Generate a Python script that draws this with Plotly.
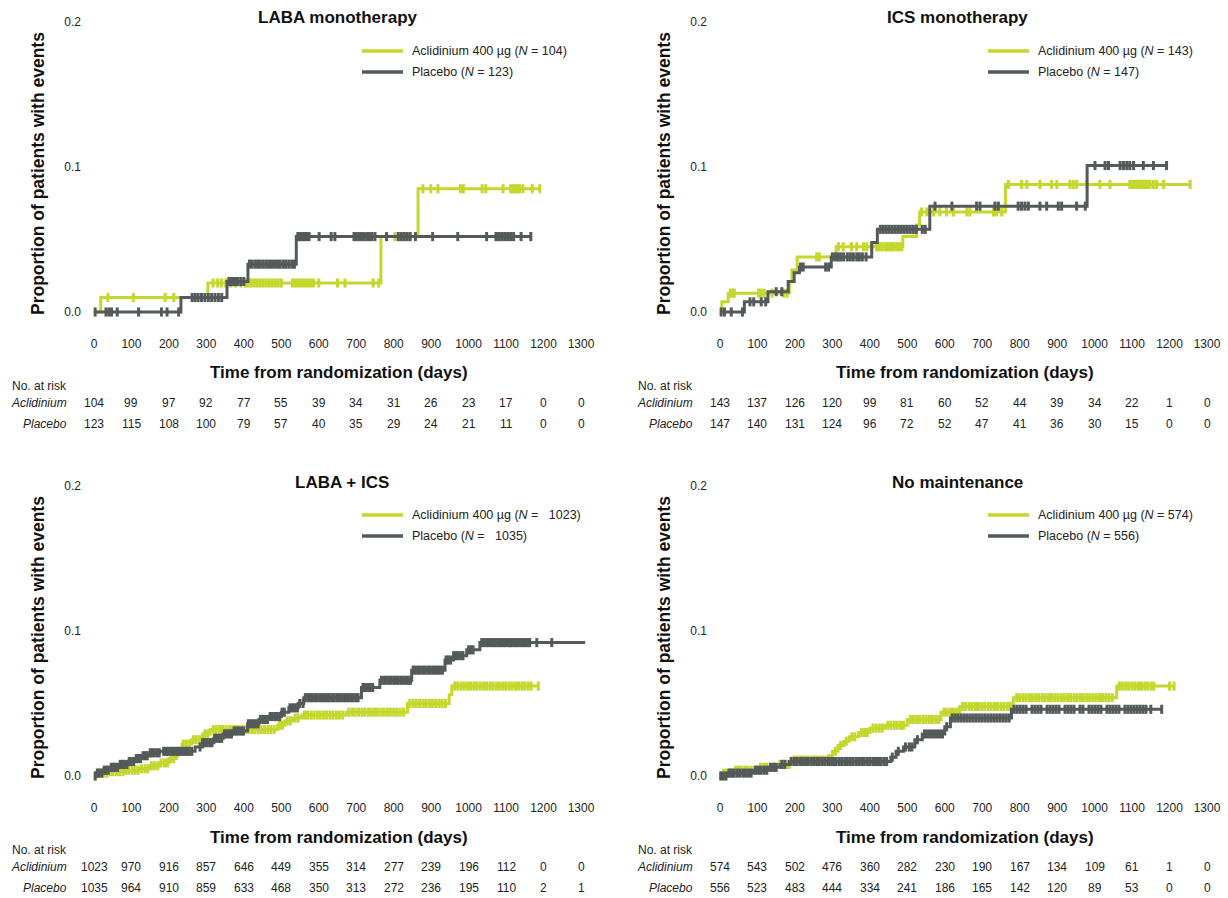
import numpy as np
import plotly.graph_objects as go

W, H = 1228, 898
ACL = "#c4d72e"
PBO = "#545a5a"
FONT = "Liberation Sans, Arial, Helvetica, sans-serif"

risk_days = [0, 100, 200, 300, 400, 500, 600, 700, 800, 900, 1000, 1100, 1200, 1300]

# ---------------- LABA monotherapy ----------------
laba_acl_t = [0, 18, 304, 766, 865]
laba_acl_v = [0, 0.010, 0.020, 0.052, 0.085]
laba_acl_end = 1190
laba_acl_cens = [37, 105, 190, 213, 318, 330, 340, 352, 365, 378, 392, 405, 412, 420, 428,
                 436, 444, 452, 460, 468, 476, 484, 492, 500, 530, 538, 546, 554, 562, 570,
                 578, 586, 600, 650, 670, 745, 760, 803, 812, 822, 830, 843, 878, 899, 918,
                 978, 986, 1036, 1046, 1092, 1112, 1118, 1124, 1130, 1136, 1145, 1170, 1190]
laba_pbo_t = [0, 232, 355, 411, 540]
laba_pbo_v = [0, 0.010, 0.021, 0.033, 0.052]
laba_pbo_end = 1166
laba_pbo_cens = [3, 32, 40, 47, 62, 119, 180, 195, 226, 262, 270, 278, 287, 296, 305, 314,
                 323, 332, 341, 360, 366, 372, 378, 384, 392, 400, 415, 422, 430, 437, 444,
                 452, 460, 467, 474, 482, 490, 497, 505, 512, 520, 528, 535, 544, 550, 556,
                 562, 568, 574, 601, 633, 643, 694, 700, 707, 714, 721, 728, 735, 742, 750,
                 781, 812, 820, 828, 836, 844, 858, 904, 971, 1048, 1073, 1080, 1088, 1096,
                 1104, 1112, 1120, 1140, 1166]
laba_acl_risk = [104, 99, 97, 92, 77, 55, 39, 34, 31, 26, 23, 17, 0, 0]
laba_pbo_risk = [123, 115, 108, 100, 79, 57, 40, 35, 29, 24, 21, 11, 0, 0]

# ---------------- ICS monotherapy ----------------
ics_acl_t = [0, 5, 22, 185, 192, 206, 310, 488, 525, 533, 762]
ics_acl_v = [0, 0.007, 0.013, 0.021, 0.029, 0.038, 0.045, 0.052, 0.060, 0.069, 0.088]
ics_acl_end = 1255
ics_acl_cens = [28, 33, 38, 103, 110, 118, 139, 170, 179, 258, 265, 316, 329, 351, 365, 383,
                392, 405, 418, 425, 432, 440, 445, 452, 458, 465, 472, 479, 485, 538, 552,
                570, 587, 605, 623, 659, 667, 730, 738, 752, 770, 805, 819, 854, 885, 899,
                934, 943, 952, 979, 1014, 1041, 1094, 1100, 1106, 1112, 1118, 1124, 1130,
                1136, 1142, 1148, 1157, 1166, 1184, 1255]
ics_pbo_t = [0, 65, 128, 182, 198, 212, 297, 405, 420, 560, 980]
ics_pbo_v = [0, 0.007, 0.014, 0.021, 0.027, 0.031, 0.038, 0.048, 0.057, 0.073, 0.101]
ics_pbo_end = 1192
ics_pbo_cens = [3, 12, 30, 60, 80, 90, 110, 122, 150, 165, 215, 222, 282, 290, 300, 308,
                315, 322, 330, 340, 348, 356, 365, 372, 380, 390, 428, 436, 444, 452, 460,
                468, 476, 484, 492, 500, 508, 516, 524, 540, 548, 574, 619, 685, 694, 734,
                743, 796, 805, 814, 823, 854, 872, 903, 912, 952, 975, 1001, 1028, 1037,
                1068, 1077, 1086, 1094, 1104, 1130, 1157, 1192]
ics_acl_risk = [143, 137, 126, 120, 99, 81, 60, 52, 44, 39, 34, 22, 1, 0]
ics_pbo_risk = [147, 140, 131, 124, 96, 72, 52, 47, 41, 36, 30, 15, 0, 0]

# ---------------- LABA + ICS ----------------
combo_acl_t = [0, 10, 40, 80, 120, 150, 175, 200, 220, 235, 260, 290, 310, 490, 510, 530,
               555, 673, 837, 948, 955]
combo_acl_v = [0, 0.002, 0.003, 0.004, 0.005, 0.007, 0.009, 0.012, 0.016, 0.022, 0.025,
               0.029, 0.032, 0.035, 0.038, 0.040, 0.042, 0.044, 0.050, 0.056, 0.062]
combo_acl_end = 1186
combo_acl_cens = [4, 12, 19, 27, 35, 44, 51, 60, 68, 77, 85, 93, 102, 110, 118, 127, 136,
                  144, 153, 161, 170, 179, 188, 196, 205, 213, 224, 238, 246, 254, 265, 273,
                  282, 296, 304, 318, 326, 335, 343, 352, 361, 369, 378, 386, 395, 404, 412,
                  421, 429, 438, 446, 455, 464, 472, 481, 495, 503, 516, 524, 537, 545, 562,
                  570, 579, 587, 596, 604, 613, 621, 630, 638, 647, 655, 664, 680, 689, 697,
                  706, 715, 723, 732, 740, 749, 757, 766, 774, 783, 791, 800, 808, 817, 826,
                  843, 852, 860, 869, 878, 886, 895, 903, 912, 921, 929, 938, 963, 971, 980,
                  988, 997, 1005, 1014, 1022, 1031, 1040, 1048, 1057, 1065, 1074, 1082, 1091,
                  1099, 1108, 1116, 1125, 1133, 1142, 1150, 1159, 1167, 1186]
combo_pbo_t = [0, 8, 25, 45, 65, 90, 110, 130, 150, 175, 270, 290, 320, 345, 370, 410, 440,
               470, 500, 520, 545, 560, 714, 763, 848, 937, 960, 995, 1030]
combo_pbo_v = [0, 0.002, 0.004, 0.006, 0.008, 0.010, 0.012, 0.014, 0.016, 0.017, 0.020,
               0.023, 0.026, 0.029, 0.031, 0.036, 0.039, 0.041, 0.044, 0.047, 0.050, 0.054,
               0.061, 0.066, 0.073, 0.080, 0.083, 0.087, 0.092]
combo_pbo_end = 1311
combo_pbo_cens = [3, 9, 14, 21, 27, 33, 38, 46, 52, 57, 63, 70, 76, 81, 88, 94, 99, 106,
                  113, 118, 124, 131, 137, 142, 150, 156, 161, 168, 174, 186, 192, 198, 205,
                  211, 217, 223, 229, 236, 242, 248, 254, 261, 283, 290, 296, 302, 309, 315,
                  322, 328, 335, 341, 348, 354, 361, 367, 374, 380, 386, 393, 399, 412, 418,
                  425, 431, 438, 444, 451, 457, 463, 470, 476, 483, 489, 496, 502, 508, 523,
                  530, 536, 543, 549, 558, 564, 571, 577, 583, 590, 596, 603, 609, 615, 622,
                  628, 635, 641, 648, 654, 660, 667, 673, 679, 686, 692, 699, 705, 718, 724,
                  731, 737, 744, 767, 774, 780, 787, 793, 800, 806, 812, 819, 825, 832, 838,
                  845, 852, 858, 865, 871, 878, 884, 891, 897, 904, 910, 917, 923, 930, 940,
                  946, 952, 960, 966, 972, 979, 985, 1000, 1006, 1012, 1035, 1041, 1048,
                  1054, 1061, 1067, 1073, 1080, 1086, 1093, 1099, 1106, 1112, 1118, 1125,
                  1131, 1138, 1144, 1150, 1157, 1163, 1182, 1222]
combo_acl_risk = [1023, 970, 916, 857, 646, 449, 355, 314, 277, 239, 196, 112, 0, 0]
combo_pbo_risk = [1035, 964, 910, 859, 633, 468, 350, 313, 272, 236, 195, 110, 2, 1]

# ---------------- No maintenance ----------------
nomt_acl_t = [0, 5, 40, 100, 150, 190, 290, 300, 315, 330, 345, 370, 400, 440, 500, 590,
              640, 783, 1059]
nomt_acl_v = [0, 0.002, 0.004, 0.006, 0.008, 0.011, 0.014, 0.017, 0.021, 0.024, 0.027,
              0.030, 0.033, 0.035, 0.039, 0.044, 0.048, 0.054, 0.062]
nomt_acl_end = 1215
nomt_acl_cens = [3, 10, 18, 26, 33, 42, 50, 57, 66, 74, 83, 91, 99, 108, 117, 125, 134, 142,
                 160, 168, 177, 185, 198, 206, 215, 223, 232, 240, 249, 257, 266, 274, 283,
                 308, 322, 337, 352, 360, 378, 386, 393, 408, 416, 425, 433, 448, 456, 465,
                 473, 482, 490, 508, 516, 525, 533, 542, 550, 559, 567, 576, 584, 598, 606,
                 615, 623, 632, 648, 656, 665, 673, 682, 690, 699, 707, 716, 724, 733, 741,
                 750, 758, 767, 775, 792, 800, 809, 817, 826, 834, 843, 851, 860, 868, 877,
                 885, 894, 902, 911, 919, 928, 936, 945, 953, 962, 970, 979, 987, 996, 1004,
                 1013, 1021, 1030, 1038, 1047, 1066, 1074, 1083, 1091, 1100, 1108, 1117,
                 1125, 1134, 1142, 1151, 1158, 1200, 1212]
nomt_pbo_t = [0, 20, 90, 130, 160, 185, 456, 470, 490, 520, 540, 600, 615, 778]
nomt_pbo_v = [0, 0.002, 0.004, 0.006, 0.008, 0.010, 0.013, 0.017, 0.020, 0.025, 0.029,
              0.034, 0.040, 0.046]
nomt_pbo_end = 1179
nomt_pbo_cens = [2, 9, 16, 24, 31, 38, 46, 53, 61, 68, 76, 83, 95, 103, 110, 118, 125, 135,
                 143, 150, 165, 173, 190, 198, 205, 213, 220, 228, 235, 243, 250, 258, 265,
                 273, 280, 288, 295, 303, 310, 318, 325, 333, 340, 348, 355, 363, 370, 378,
                 385, 393, 400, 408, 415, 423, 430, 438, 445, 460, 476, 495, 505, 512, 527,
                 546, 554, 562, 570, 578, 586, 594, 605, 620, 628, 636, 644, 652, 660, 668,
                 676, 684, 692, 700, 708, 716, 724, 732, 740, 748, 756, 764, 772, 785, 793,
                 801, 809, 817, 833, 841, 849, 857, 873, 881, 889, 897, 905, 921, 929, 937,
                 945, 961, 969, 985, 993, 1001, 1009, 1017, 1033, 1041, 1049, 1057, 1065,
                 1081, 1089, 1097, 1105, 1113, 1121, 1129, 1137, 1150, 1179]
nomt_acl_risk = [574, 543, 502, 476, 360, 282, 230, 190, 167, 134, 109, 61, 1, 0]
nomt_pbo_risk = [556, 523, 483, 444, 334, 241, 186, 165, 142, 120, 89, 53, 0, 0]

panels = [
    dict(title="LABA monotherapy", n_acl="104", n_pbo="123",
         acl=(laba_acl_t, laba_acl_v, laba_acl_end, laba_acl_cens),
         pbo=(laba_pbo_t, laba_pbo_v, laba_pbo_end, laba_pbo_cens),
         risk=(laba_acl_risk, laba_pbo_risk), col=0, row=0, tx=338),
    dict(title="ICS monotherapy", n_acl="143", n_pbo="147",
         acl=(ics_acl_t, ics_acl_v, ics_acl_end, ics_acl_cens),
         pbo=(ics_pbo_t, ics_pbo_v, ics_pbo_end, ics_pbo_cens),
         risk=(ics_acl_risk, ics_pbo_risk), col=1, row=0, tx=957),
    dict(title="LABA + ICS", n_acl="\u00a0 1023", n_pbo="\u00a0 1035",
         acl=(combo_acl_t, combo_acl_v, combo_acl_end, combo_acl_cens),
         pbo=(combo_pbo_t, combo_pbo_v, combo_pbo_end, combo_pbo_cens),
         risk=(combo_acl_risk, combo_pbo_risk), col=0, row=1, tx=342),
    dict(title="No maintenance", n_acl="574", n_pbo="556",
         acl=(nomt_acl_t, nomt_acl_v, nomt_acl_end, nomt_acl_cens),
         pbo=(nomt_pbo_t, nomt_pbo_v, nomt_pbo_end, nomt_pbo_cens),
         risk=(nomt_acl_risk, nomt_pbo_risk), col=1, row=1, tx=957),
]

# pixel geometry of the panels
X0_PX = [94, 720]          # pixel of day 0 in left / right column
Y0_PX = [312, 776]         # pixel of proportion 0 in top / bottom row
PX_PER_DAY = 487 / 1300
PX_PER_UNIT = 1450
X_RANGE = [-32, 1340]
Y_RANGE = [-0.016, 0.21]


def fx(px):
    return px / W


def fy(py):
    return 1 - py / H


fig = go.Figure()
annotations = []
shapes = []

for i, p in enumerate(panels):
    k = "" if i == 0 else str(i + 1)
    xa, ya = "x" + k, "y" + k
    x0, y0 = X0_PX[p["col"]], Y0_PX[p["row"]]
    dom_x = [fx(x0 + X_RANGE[0] * PX_PER_DAY), fx(x0 + X_RANGE[1] * PX_PER_DAY)]
    dom_y = [fy(y0 - Y_RANGE[0] * PX_PER_UNIT), fy(y0 - Y_RANGE[1] * PX_PER_UNIT)]

    fig.layout["xaxis" + k] = dict(
        domain=dom_x, range=X_RANGE, anchor=ya, tickvals=risk_days,
        showgrid=False, zeroline=False, showline=False, ticks="",
        tickfont=dict(size=12, color="#222", family=FONT))
    fig.layout["yaxis" + k] = dict(
        domain=dom_y, range=Y_RANGE, anchor=xa, tickvals=[0, 0.1, 0.2],
        ticktext=["0.0", "0.1", "0.2"], showgrid=False, zeroline=False,
        showline=False, ticks="", tickfont=dict(size=12, color="#222", family=FONT))

    for key, color in (("acl", ACL), ("pbo", PBO)):
        t, v, end, cens = p[key]
        t_arr = np.array(t, dtype=float)
        v_arr = np.array(v, dtype=float)
        fig.add_trace(go.Scatter(
            x=list(t) + [end], y=list(v) + [v[-1]], xaxis=xa, yaxis=ya,
            mode="lines", line=dict(color=color, width=3, shape="hv"),
            showlegend=False, hoverinfo="skip"))
        c = np.array(cens, dtype=float)
        idx = np.searchsorted(t_arr, c, side="right") - 1
        fig.add_trace(go.Scatter(
            x=c, y=v_arr[idx], xaxis=xa, yaxis=ya, mode="markers",
            marker=dict(symbol="line-ns", size=6.5,
                        line=dict(color=color, width=3)),
            showlegend=False, hoverinfo="skip", cliponaxis=False))

    # panel title
    annotations.append(dict(
        text="<b>%s</b>" % p["title"], x=fx(p["tx"]), y=fy(y0 - 294),
        xref="paper", yref="paper", showarrow=False, xanchor="center",
        yanchor="middle", font=dict(size=17, family=FONT, color="#111")))
    # y-axis title
    annotations.append(dict(
        text="<b>Proportion of patients with events</b>", textangle=-90,
        x=fx(x0 - 56), y=fy(y0 - 138), xref="paper", yref="paper",
        showarrow=False, xanchor="center", yanchor="middle",
        font=dict(size=17.5, family=FONT, color="#111")))
    # x-axis title
    annotations.append(dict(
        text="<b>Time from randomization (days)</b>", x=fx(x0 + 245),
        y=fy(y0 + 61), xref="paper", yref="paper", showarrow=False,
        xanchor="center", yanchor="middle",
        font=dict(size=17, family=FONT, color="#111")))

    # legend
    leg = [("Aclidinium 400 \u00b5g (<i>N</i> = %s)" % p["n_acl"], ACL),
           ("Placebo (<i>N</i> = %s)" % p["n_pbo"], PBO)]
    for j, (label, color) in enumerate(leg):
        ly = y0 - 261 + j * 21
        shapes.append(dict(type="line", xref="paper", yref="paper",
                           x0=fx(x0 + 268), x1=fx(x0 + 309), y0=fy(ly), y1=fy(ly),
                           line=dict(color=color, width=3.5)))
        annotations.append(dict(
            text=label, x=fx(x0 + 316), y=fy(ly), xref="paper", yref="paper",
            showarrow=False, xanchor="left", yanchor="middle",
            font=dict(size=12.5, family=FONT, color="#222")))

    # number at risk table
    annotations.append(dict(
        text="No. at risk", x=fx(x0 - 25), y=fy(y0 + 74), xref="paper",
        yref="paper", showarrow=False, xanchor="right", yanchor="middle",
        font=dict(size=12, family=FONT, color="#222")))
    for j, (name, counts) in enumerate((("Aclidinium", p["risk"][0]),
                                        ("Placebo", p["risk"][1]))):
        ry = y0 + 91 + j * 20.5
        annotations.append(dict(
            text="<i>%s</i>" % name, x=fx(x0 - 25), y=fy(ry), xref="paper",
            yref="paper", showarrow=False, xanchor="right", yanchor="middle",
            font=dict(size=12, family=FONT, color="#222")))
        for d, n in zip(risk_days, counts):
            annotations.append(dict(
                text=str(n), x=d, y=fy(ry), xref=xa, yref="paper",
                showarrow=False, xanchor="center", yanchor="middle",
                font=dict(size=12, family=FONT, color="#222")))

fig.update_layout(
    width=W, height=H, margin=dict(l=0, r=0, t=0, b=0),
    paper_bgcolor="white", plot_bgcolor="white",
    font=dict(family=FONT), annotations=annotations, shapes=shapes,
    showlegend=False)

fig.write_html("out.html")
